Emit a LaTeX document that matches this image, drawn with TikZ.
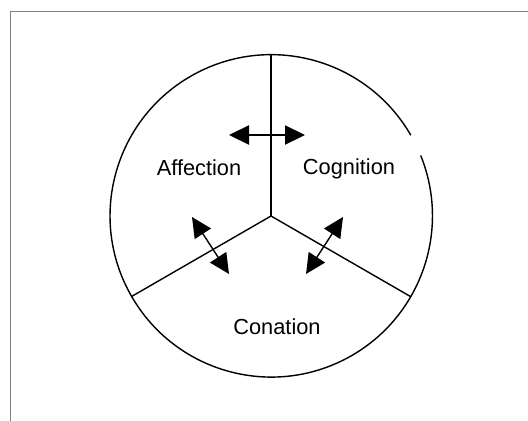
\documentclass[tikz,border=0pt]{standalone}
\usepackage{fontspec}
\setmainfont{Liberation Sans}
\usetikzlibrary{
    arrows.meta
}

\begin{document}
\begin{tikzpicture}[
    part/.style={font=\fontsize{15.5}{18}\selectfont},
    link/.style={line width=1pt, {Triangle[length=5mm, width=4.8mm]}-{Triangle[length=5mm, width=4.8mm]}}
]

\useasboundingbox (0,0) rectangle (13.2,10.5);
\clip (0,0) rectangle (13.2,10.5);

% Frame
\draw[gray, line width=0.6pt] (0.25,-1) -- (0.25,10.225) -- (14,10.225);

% Circle
\node[circle, minimum size=8.06cm, inner sep=0pt] (wheel) at (6.775,5.1) {};
\draw[line width=1pt] (wheel.30) arc[start angle=30, end angle=382, radius=4.03];

% Dividers
\draw[line width=1pt] (wheel.center) -- (wheel.90);
\draw[line width=1pt] (wheel.center) -- (wheel.210);
\draw[line width=1pt] (wheel.center) -- (wheel.330);

% Labels
\node[part] (affection) at (4.975,6.3) {Affection};
\node[part] (cognition) at (8.725,6.275) {Cognition};
\node[part] (conation) at (6.925,2.325) {Conation};

% Arrows
\coordinate (ac1) at (5.725,7.125);
\coordinate (ac2) at (7.625,7.125);
\coordinate (an1) at (4.8,5.075);
\coordinate (an2) at (5.725,3.65);
\coordinate (cn1) at (8.575,5.075);
\coordinate (cn2) at (7.65,3.65);

\draw[link] (ac1) -- (ac2);
\draw[link] (an1) -- (an2);
\draw[link] (cn1) -- (cn2);

\end{tikzpicture}
\end{document}
